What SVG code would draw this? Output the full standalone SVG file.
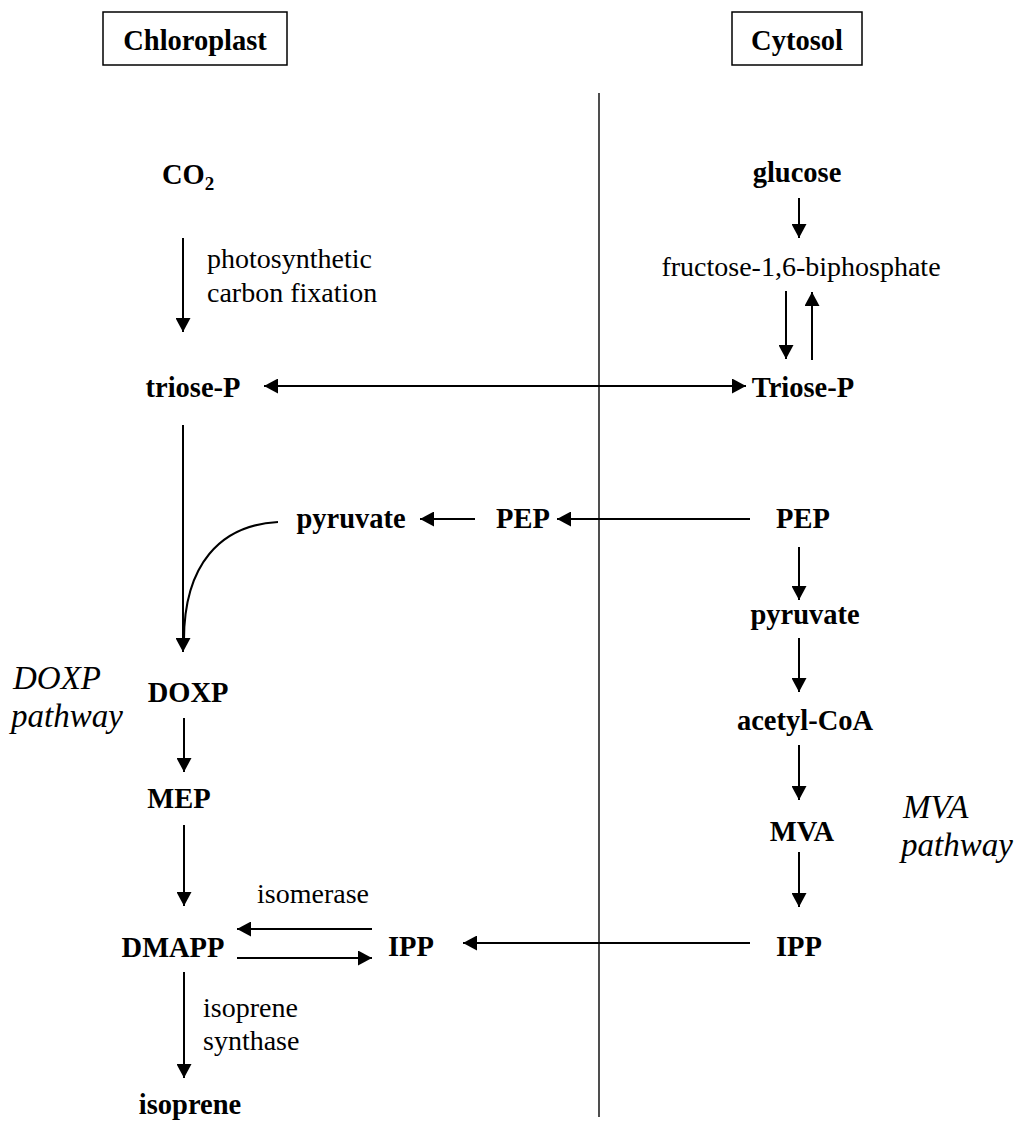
<svg xmlns="http://www.w3.org/2000/svg" width="1020" height="1127" viewBox="0 0 1020 1127">
<style>
text{font-family:"Liberation Serif","Times New Roman",serif;fill:#000}
.b{font-weight:bold;font-size:28.5px}
.r{font-size:28px}
.i{font-style:italic;font-size:33px}
.c{stroke:#000;stroke-width:2;fill:none}
.box{fill:#fff;stroke:#000;stroke-width:1.5}
</style>
<defs>
<marker id="ah" viewBox="0 0 14 15" refX="14" refY="7.5" markerWidth="14" markerHeight="15" orient="auto-start-reverse" markerUnits="userSpaceOnUse">
<path d="M0,0 L14,7.5 L0,15 z" fill="#000"/>
</marker>
</defs>
<rect width="1020" height="1127" fill="#fff"/>

<g id="connectors">
<line x1="599" y1="93" x2="599" y2="1117" stroke="#222" stroke-width="1.6"/>
<line class="c" x1="183" y1="238" x2="183" y2="332" marker-end="url(#ah)"/>
<line class="c" x1="799" y1="198" x2="799" y2="238" marker-end="url(#ah)"/>
<line class="c" x1="786" y1="291" x2="786" y2="359" marker-end="url(#ah)"/>
<line class="c" x1="812" y1="360" x2="812" y2="292" marker-end="url(#ah)"/>
<line class="c" x1="264" y1="386" x2="746" y2="386" marker-start="url(#ah)" marker-end="url(#ah)"/>
<line class="c" x1="183" y1="425" x2="183" y2="652" marker-end="url(#ah)"/>
<path class="c" stroke-width="1.5" d="M278,522 C220,525 184,565 184,640"/>
<line class="c" x1="475" y1="519" x2="420" y2="519" marker-end="url(#ah)"/>
<line class="c" x1="750" y1="519" x2="557" y2="519" marker-end="url(#ah)"/>
<line class="c" x1="799" y1="547" x2="799" y2="600" marker-end="url(#ah)"/>
<line class="c" x1="799" y1="638" x2="799" y2="692" marker-end="url(#ah)"/>
<line class="c" x1="799" y1="745" x2="799" y2="800" marker-end="url(#ah)"/>
<line class="c" x1="799" y1="852" x2="799" y2="907" marker-end="url(#ah)"/>
<line class="c" x1="184" y1="718" x2="184" y2="772" marker-end="url(#ah)"/>
<line class="c" x1="184" y1="825" x2="184" y2="906" marker-end="url(#ah)"/>
<line class="c" x1="372" y1="929" x2="237" y2="929" marker-end="url(#ah)"/>
<line class="c" x1="237" y1="958" x2="372" y2="958" marker-end="url(#ah)"/>
<line class="c" x1="750" y1="943" x2="463" y2="943" marker-end="url(#ah)"/>
<line class="c" x1="184" y1="972" x2="184" y2="1078" marker-end="url(#ah)"/>
</g>

<g id="chloroplast-header"><rect class="box" x="103" y="12" width="184" height="53"/><text class="b" x="195" y="50" text-anchor="middle">Chloroplast</text></g>
<g id="cytosol-header"><rect class="box" x="732" y="12" width="130" height="53"/><text class="b" x="797" y="50" text-anchor="middle">Cytosol</text></g>

<g id="co2"><text class="b" x="162" y="184">CO<tspan font-size="19" dy="6">2</tspan></text></g>
<g id="fixation-label"><text class="r" x="207" y="268">photosynthetic</text><text class="r" x="207" y="302">carbon fixation</text></g>
<g id="glucose"><text class="b" x="797" y="182" text-anchor="middle">glucose</text></g>
<g id="fbp"><text class="r" x="801" y="276" text-anchor="middle">fructose-1,6-biphosphate</text></g>
<g id="triose-p-chl"><text class="b" x="193" y="397" text-anchor="middle">triose-P</text></g>
<g id="triose-p-cyt"><text class="b" x="803" y="397" text-anchor="middle">Triose-P</text></g>
<g id="pyruvate-chl"><text class="b" x="351" y="528" text-anchor="middle">pyruvate</text></g>
<g id="pep-chl"><text class="b" x="523" y="528" text-anchor="middle">PEP</text></g>
<g id="pep-cyt"><text class="b" x="803" y="528" text-anchor="middle">PEP</text></g>
<g id="pyruvate-cyt"><text class="b" x="805" y="624" text-anchor="middle">pyruvate</text></g>
<g id="acetyl-coa"><text class="b" x="805" y="730" text-anchor="middle">acetyl-CoA</text></g>
<g id="mva"><text class="b" x="802" y="841" text-anchor="middle">MVA</text></g>
<g id="mva-pathway"><text class="i" x="903" y="818">MVA</text><text class="i" x="901" y="856">pathway</text></g>
<g id="ipp-cyt"><text class="b" x="799" y="956" text-anchor="middle">IPP</text></g>
<g id="doxp-pathway"><text class="i" x="13" y="689">DOXP</text><text class="i" x="11" y="727">pathway</text></g>
<g id="doxp"><text class="b" x="188" y="702" text-anchor="middle">DOXP</text></g>
<g id="mep"><text class="b" x="179" y="808" text-anchor="middle">MEP</text></g>
<g id="isomerase"><text class="r" x="313" y="903" text-anchor="middle">isomerase</text></g>
<g id="dmapp"><text class="b" x="173" y="957" text-anchor="middle">DMAPP</text></g>
<g id="ipp-chl"><text class="b" x="411" y="956" text-anchor="middle">IPP</text></g>
<g id="synthase-label"><text class="r" x="203" y="1017">isoprene</text><text class="r" x="203" y="1050">synthase</text></g>
<g id="isoprene"><text class="b" x="190" y="1114" text-anchor="middle" font-size="32">isoprene</text></g>
</svg>
